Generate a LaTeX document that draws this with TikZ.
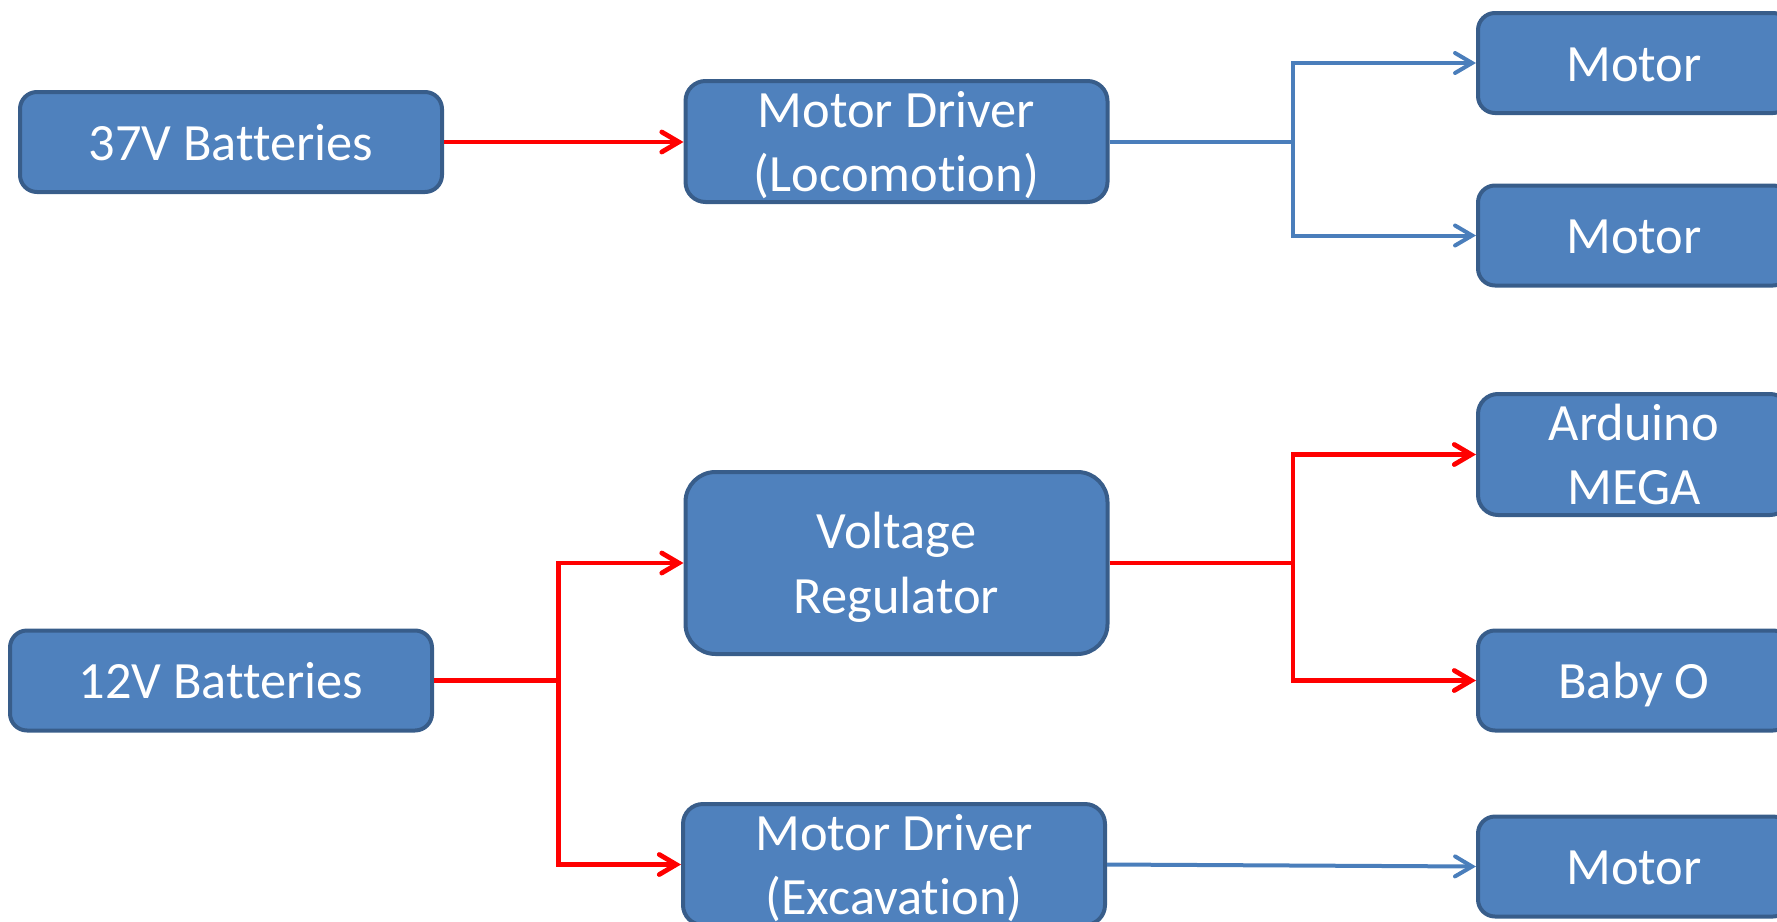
\documentclass[tikz,border=0pt]{standalone}
\usepackage{fontspec}
\setmainfont{Carlito}[Ligatures={NoCommon}]
\usetikzlibrary{arrows.meta}
\definecolor{boxfill}{HTML}{4F81BD}
\definecolor{boxline}{HTML}{385D8A}
\definecolor{wireblue}{HTML}{4A7EBB}
\definecolor{wirered}{HTML}{FF0000}
% box text: lines stacked, capitals centred in the box; the reported size is
% trimmed so that the text never enlarges its box
\newcommand\boxlines[1]{\raisebox{-2.6pt}[\dimexpr\height-8pt\relax][\dimexpr\depth-8pt\relax]{\begin{tabular}{@{}c@{}}#1\end{tabular}}}
\tikzset{
  block/.style={draw=boxline, fill=boxfill, line width=2pt, text=white,
    inner sep=0pt, minimum width=211pt,
    font=\fontsize{26.2}{32.3}\selectfont},
  lowblock/.style={block, minimum height=50pt, rounded corners=8.5pt},
  tallblock/.style={block, minimum height=60.5pt, rounded corners=10pt},
  bigblock/.style={block, minimum height=91pt, rounded corners=15pt},
  outblock/.style={block, minimum width=156pt},
  redwire/.style={draw=wirered, line width=2.4pt},
  bluewire/.style={draw=wireblue, line width=2pt},
  tip/.style={-{Straight Barb[length=8.5pt, width=10pt, line cap=round]}},
}
\begin{document}
\begin{tikzpicture}[x=0.5pt, y=-0.5pt]
  \useasboundingbox (0,0) rectangle (1777,921);
  \clip (0,0) rectangle (1777,921);

  % sources and drivers
  \node[lowblock]  (b37) at (231,142)     {\boxlines{37V Batteries}};
  \node[tallblock] (mdl) at (896.5,141.5) {\boxlines{Motor Driver\\(Locomotion)}};
  \node[bigblock]  (vr)  at (896.5,563)   {\boxlines{Voltage\\Regulator}};
  \node[lowblock]  (b12) at (221,680.5)   {\boxlines{12V Batteries}};
  \node[tallblock] (mde) at (894,864.5)   {\boxlines{Motor Driver\\(Excavation)}};

  % loads on the right
  \node[lowblock, outblock]  (m1)   at (1634,63)    {\boxlines{Motor}};
  \node[lowblock, outblock]  (m2)   at (1634,235.5) {\boxlines{Motor}};
  \node[tallblock, outblock] (ard)  at (1634,454.5) {\boxlines{Arduino\\MEGA}};
  \node[lowblock, outblock]  (baby) at (1634,680.5) {\boxlines{Baby O}};
  \node[lowblock, outblock]  (m3)   at (1634,866.5) {\boxlines{Motor}};

  % branch points
  \coordinate (j1) at (1293,141.5);
  \coordinate (j2) at (558.5,680.5);
  \coordinate (j3) at (1293,563);

  % locomotion power
  \draw[redwire, tip] (b37.east) -- (b37.east -| mdl.west);
  \draw[bluewire] (mdl.east) -- (j1);
  \draw[bluewire, tip] (j1) |- (m1.west);
  \draw[bluewire, tip] (j1) |- (m2.west);

  % 12V distribution
  \draw[redwire] (b12.east) -- (j2);
  \draw[redwire, tip] (j2) |- (vr.west);
  \draw[redwire, tip] (j2) |- (mde.west);
  \draw[redwire] (vr.east) -- (j3);
  \draw[redwire, tip] (j3) |- (ard.west);
  \draw[redwire, tip] (j3) |- (baby.west);

  % excavation motor
  \draw[bluewire, tip] (mde.east) -- (m3.west);
\end{tikzpicture}
\end{document}
